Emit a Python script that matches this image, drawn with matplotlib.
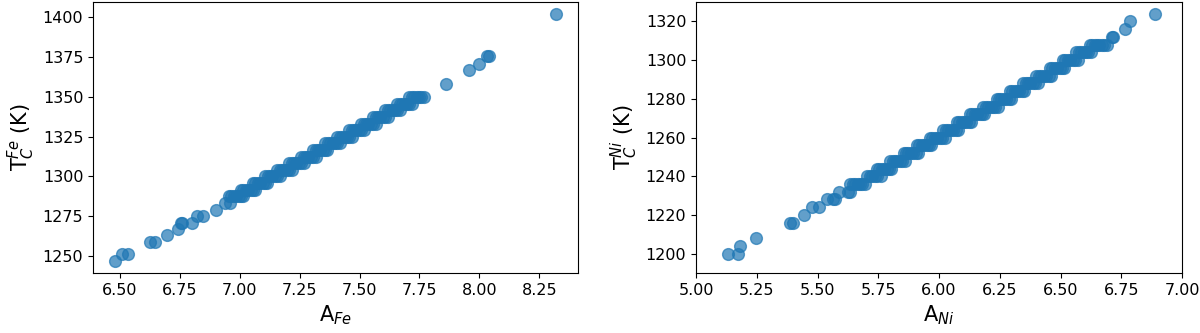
import numpy as np
import matplotlib
matplotlib.use("Agg")
import matplotlib.pyplot as plt

# --- Fe panel: isolated points
fe_sparse_a = [6.479, 6.507, 6.535, 6.625, 6.646, 6.694, 6.743, 6.755, 6.760, 6.799,
               6.820, 6.847, 6.900, 6.938, 6.958, 7.861, 7.958, 7.997, 8.030, 8.040, 8.319]
fe_sparse_t = [1247.0, 1251.0, 1251.0, 1259.0, 1259.0, 1263.0, 1267.0, 1271.0, 1271.0, 1271.0,
               1275.0, 1275.0, 1279.0, 1283.3, 1283.3, 1358.3, 1367.0, 1371.0, 1375.5, 1375.5, 1402.0]

# Fe panel: dense staircase, one row of abundances per temperature level
fe_band_t = [1287.5, 1291.7, 1295.8, 1300.0, 1304.2, 1308.3, 1312.5, 1316.7,
             1320.8, 1325.0, 1329.2, 1333.3, 1337.5, 1341.7, 1345.8, 1350.0]
fe_band_a = [
    [6.955, 6.965, 6.975, 6.985, 6.995, 7.005, 7.015],
    [7.005, 7.015, 7.025, 7.035, 7.045, 7.055, 7.065],
    [7.055, 7.065, 7.075, 7.085, 7.095, 7.105, 7.115],
    [7.106, 7.116, 7.126, 7.136, 7.146, 7.156, 7.166],
    [7.156, 7.166, 7.176, 7.186, 7.196, 7.206, 7.216],
    [7.206, 7.216, 7.226, 7.236, 7.246, 7.256, 7.266],
    [7.256, 7.266, 7.276, 7.286, 7.296, 7.306, 7.316],
    [7.306, 7.316, 7.326, 7.336, 7.346, 7.356, 7.366],
    [7.357, 7.367, 7.377, 7.387, 7.397, 7.407, 7.417],
    [7.407, 7.417, 7.427, 7.437, 7.447, 7.457, 7.467],
    [7.457, 7.467, 7.477, 7.487, 7.497, 7.507, 7.517],
    [7.507, 7.517, 7.527, 7.537, 7.547, 7.557, 7.567],
    [7.557, 7.567, 7.577, 7.587, 7.597, 7.607, 7.617],
    [7.608, 7.618, 7.628, 7.638, 7.648, 7.658, 7.668],
    [7.658, 7.668, 7.678, 7.688, 7.698, 7.708, 7.718],
    [7.708, 7.718, 7.728, 7.738, 7.748, 7.758, 7.770],
]

# --- Ni panel: isolated points
ni_sparse_a = [5.133, 5.174, 5.181, 5.247, 5.387, 5.401, 5.445, 5.476, 5.508, 5.538,
               5.563, 5.572, 5.590, 5.627, 5.634, 6.712, 6.716, 6.767, 6.787, 6.890]
ni_sparse_t = [1200.0, 1200.0, 1204.0, 1208.0, 1216.0, 1216.0, 1220.0, 1224.0, 1224.0, 1228.0,
               1228.0, 1228.0, 1232.0, 1232.0, 1232.0, 1312.0, 1312.0, 1316.0, 1320.0, 1324.0]

# Ni panel: dense staircase
ni_band_t = [1236, 1240, 1244, 1248, 1252, 1256, 1260, 1264, 1268, 1272,
             1276, 1280, 1284, 1288, 1292, 1296, 1300, 1304, 1308]
ni_band_a = [
    [5.635, 5.645, 5.655, 5.665, 5.675, 5.685, 5.695],
    [5.705, 5.715, 5.725, 5.735, 5.745, 5.760],
    [5.744, 5.754, 5.764, 5.774, 5.784, 5.794, 5.804],
    [5.799, 5.809, 5.819, 5.829, 5.839, 5.849, 5.859],
    [5.854, 5.864, 5.874, 5.884, 5.894, 5.904, 5.914],
    [5.909, 5.919, 5.929, 5.939, 5.949, 5.959, 5.969],
    [5.963, 5.973, 5.983, 5.993, 6.003, 6.013, 6.023],
    [6.018, 6.028, 6.038, 6.048, 6.058, 6.068, 6.078],
    [6.073, 6.083, 6.093, 6.103, 6.113, 6.123, 6.133],
    [6.127, 6.137, 6.147, 6.157, 6.167, 6.177, 6.187],
    [6.182, 6.192, 6.202, 6.212, 6.222, 6.232, 6.242],
    [6.237, 6.247, 6.257, 6.267, 6.277, 6.287, 6.297],
    [6.291, 6.301, 6.311, 6.321, 6.331, 6.341, 6.351],
    [6.346, 6.356, 6.366, 6.376, 6.386, 6.396, 6.406],
    [6.401, 6.411, 6.421, 6.431, 6.441, 6.451, 6.461],
    [6.456, 6.466, 6.476, 6.486, 6.496, 6.506, 6.516],
    [6.510, 6.520, 6.530, 6.540, 6.550, 6.560, 6.570],
    [6.565, 6.575, 6.585, 6.595, 6.605, 6.615, 6.625],
    [6.620, 6.630, 6.640, 6.650, 6.660, 6.670, 6.680, 6.692],
]


def flatten(levels, rows):
    a, t = [], []
    for level, row in zip(levels, rows):
        a.extend(row)
        t.extend([level] * len(row))
    return a, t


fe_a, fe_t = flatten(fe_band_t, fe_band_a)
fe_a = fe_sparse_a + fe_a
fe_t = fe_sparse_t + fe_t

ni_a, ni_t = flatten(ni_band_t, ni_band_a)
ni_a = ni_sparse_a + ni_a
ni_t = ni_sparse_t + ni_t

fig = plt.figure(figsize=(12, 3.33), dpi=100)
ax1 = fig.add_axes([0.0775, 0.18, 0.404, 0.814])
ax2 = fig.add_axes([0.58, 0.18, 0.405, 0.814])

ax1.scatter(fe_a, fe_t, s=72, alpha=0.7, color="#1f77b4")
ax1.set_xticks([6.50, 6.75, 7.00, 7.25, 7.50, 7.75, 8.00, 8.25])
ax1.set_xlabel(r"A$_{Fe}$", fontsize=15)
ax1.set_ylabel(r"T$_C^{Fe}$ (K)", fontsize=15)

ax2.scatter(ni_a, ni_t, s=72, alpha=0.7, color="#1f77b4")
ax2.set_xlim(5.0, 7.0)
ax2.set_ylim(1190, 1330)
ax2.set_xticks([5.00, 5.25, 5.50, 5.75, 6.00, 6.25, 6.50, 6.75, 7.00])
ax2.set_xlabel(r"A$_{Ni}$", fontsize=15)
ax2.set_ylabel(r"T$_C^{Ni}$ (K)", fontsize=15)

for ax in (ax1, ax2):
    ax.tick_params(labelsize=11.5)
    ax.xaxis.set_major_formatter(matplotlib.ticker.FormatStrFormatter("%.2f"))

plt.savefig("out.png", dpi=100)
plt.close()
